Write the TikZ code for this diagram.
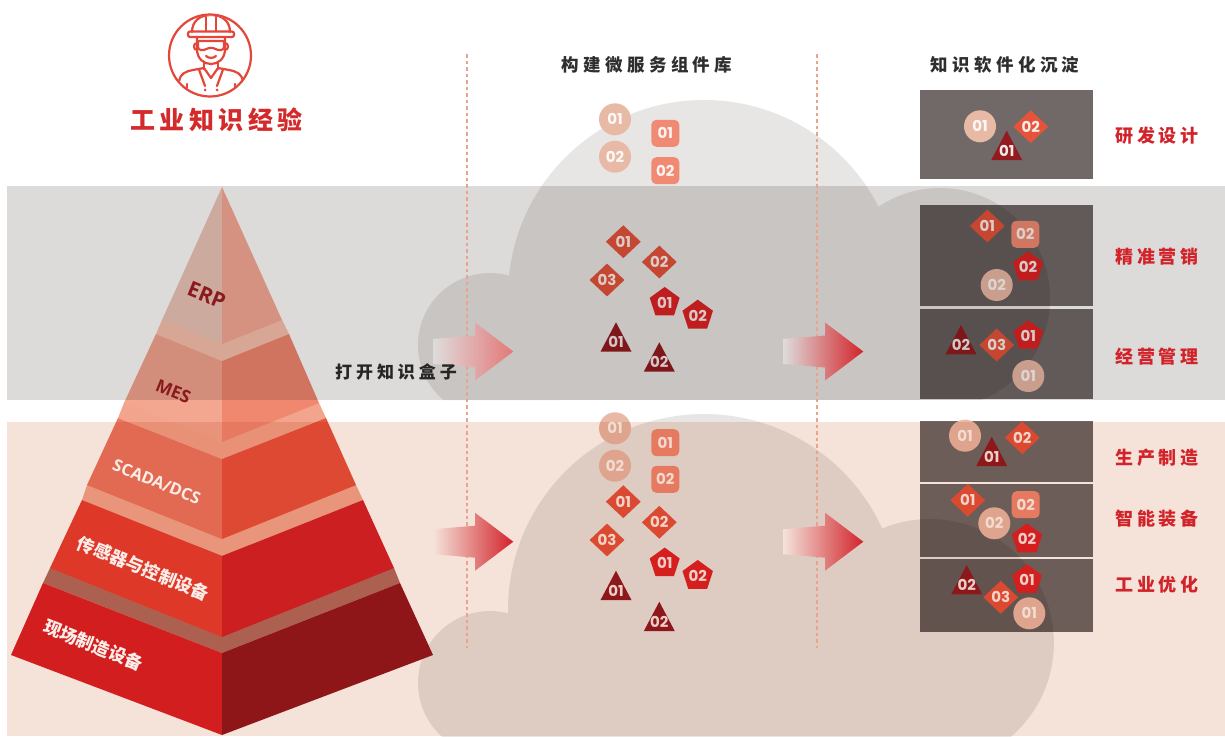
\documentclass[tikz,border=0pt]{standalone}
\usepackage{fontspec}
\setmainfont{Open Sans}
\newfontfamily\cjk{Noto Sans CJK SC}
\newfontfamily\numf{Poppins}
\usetikzlibrary{shapes.geometric}

% palette
\definecolor{bandgrey}{HTML}{DDDBDA}
\definecolor{bandpink}{HTML}{F5E3DA}
\definecolor{cloudc}{HTML}{E8E6E5}
\definecolor{iconred}{HTML}{E4463A}
\definecolor{titlered}{HTML}{D42A2B}
\definecolor{labred}{HTML}{D2232A}
\definecolor{headgrey}{HTML}{2E2E2E}
\definecolor{boxc}{HTML}{716967}
\definecolor{dotc}{HTML}{E9A48E}
\definecolor{shcirc}{HTML}{E8B9A5}
\definecolor{shrsq}{HTML}{F08A72}
\definecolor{shdia}{HTML}{E5533A}
\definecolor{shpent}{HTML}{DE2324}
\definecolor{shtri}{HTML}{931A1F}
% pyramid faces
\definecolor{erpL}{HTML}{ECC6B9}
\definecolor{erpR}{HTML}{F7AB96}
\definecolor{mesT}{HTML}{F9C2AE}
\definecolor{mesL}{HTML}{F3A690}
\definecolor{mesR}{HTML}{F08870}
\definecolor{scaT}{HTML}{F2A48C}
\definecolor{scaL}{HTML}{ED7860}
\definecolor{scaR}{HTML}{E7533C}
\definecolor{senT}{HTML}{F2A890}
\definecolor{senL}{HTML}{E8412F}
\definecolor{senR}{HTML}{D42327}
\definecolor{fldT}{HTML}{B46E5E}
\definecolor{fldL}{HTML}{DB2225}
\definecolor{fldR}{HTML}{94181D}
\definecolor{pyrdark}{HTML}{8B1A1F}
\definecolor{pyrlight}{HTML}{FCEDE8}

\tikzset{
  num/.style={font=\numf\bfseries\fontsize{15}{15}\selectfont, text=white, text opacity=0.9, inner sep=0pt},
  circshape/.style={num, circle, minimum size=32pt},
  rsqshape/.style={num, rectangle, rounded corners=5pt, minimum width=28pt, minimum height=27pt},
  diashape/.style={num, diamond, minimum width=35pt, minimum height=33pt},
  pentshape/.style={num, regular polygon, regular polygon sides=5, minimum size=31.5pt},
  boxst/.style={rectangle, fill=boxc, inner sep=0pt, anchor=north west},
  boxlabel/.style={font=\cjk\bfseries\fontsize{18}{18}\selectfont\addfontfeature{LetterSpace=19}, text=labred, inner sep=0pt},
  head/.style={font=\cjk\bfseries\fontsize{17.5}{17.5}\selectfont\addfontfeature{LetterSpace=25}, text=headgrey, inner sep=0pt},
  pyrtext/.style={font=\bfseries\fontsize{#1}{#1}\selectfont, rotate=-22, inner sep=0pt},
  pyrcjk/.style={font=\cjk\bfseries\fontsize{#1}{#1}\selectfont, rotate=-22, inner sep=0pt, text=pyrlight},
  dotline/.style={dotc, line width=1.6pt, dash pattern=on 3.5pt off 3pt},
  iconline/.style={iconred, line width=2.2pt, line cap=round, line join=round},
}

\newcommand\mkcirc[5]{\node[circshape, fill=#4] (#1) at (#2,#3) {#5};}
\newcommand\mkrsq[5]{\node[rsqshape, fill=#4] (#1) at (#2,#3) {#5};}
\newcommand\mkdia[5]{\node[diashape, fill=#4] (#1) at (#2,#3) {#5};}
\newcommand\mkpent[5]{\node[pentshape, fill=#4] (#1) at (#2,#3) {#5};}
\newcommand\mktri[5]{\fill[#4] (#2,#3) ++(0,-20) -- ++(15.5,29.4) -- ++(-31,0) -- cycle;
  \node[num] (#1) at (#2,#3) {#5};}
% block arrow: tail x, head x, tip x, centre y
\newcommand\mkarrow[6]{\shade[left color=#5, right color=#6]
  (#1,#4-12.5) -- (#2,#4-16) -- (#2,#4-29) -- (#3,#4) -- (#2,#4+29) -- (#2,#4+16) -- (#1,#4+12.5) -- cycle;}

\begin{document}
\begin{tikzpicture}[x=1pt,y=-1pt]
\useasboundingbox (0,0) rectangle (1225,736);
\clip (0,0) rectangle (1225,736);
\fill[white] (0,0) rectangle (1225,736);

% ---------- output panels ----------
\node[boxst, minimum width=173pt, minimum height=88.7pt] (b1) at (920,90) {};
\node[boxst, minimum width=173pt, minimum height=100.7pt] (b2) at (920,205) {};
\node[boxst, minimum width=173pt, minimum height=89.7pt] (b3) at (920,309) {};
\node[boxst, minimum width=173pt, minimum height=60.7pt] (b4) at (920,421) {};
\node[boxst, minimum width=173pt, minimum height=72.7pt] (b5) at (920,484) {};
\node[boxst, minimum width=173pt, minimum height=72.7pt] (b6) at (920,559) {};

% ---------- clouds ----------
\fill[cloudc, blend mode=multiply] (443.5,400)
  arc[start angle=130.2, end angle=285.4, radius=72]
  arc[start angle=185.97, end angle=332.93, radius=196]
  arc[start angle=236, end angle=428, radius=110] -- cycle;
\fill[cloudc, blend mode=multiply] (490,755)
  arc[start angle=90, end angle=284.5, radius=72]
  arc[start angle=179.04, end angle=335.43, radius=196]
  arc[start angle=247.4, end angle=450, radius=124] -- cycle;

% ---------- pyramid ----------
% field equipment
\fill[fldT] (43,583) -- (50,568) -- (222,540) -- (394,568) -- (400,583) -- (222,653) -- cycle;
\fill[fldL] (43,583) -- (222,653) -- (222,735) -- (11,655) -- cycle;
\fill[fldR] (222,653) -- (400,583) -- (433,655) -- (222,735) -- cycle;
% sensors and control
\fill[senT] (82,500) -- (87,485) -- (222,460) -- (356,485) -- (363,500) -- (222,556) -- cycle;
\fill[senL] (82,500) -- (222,556) -- (222,637) -- (50,568) -- cycle;
\fill[senR] (222,556) -- (363,500) -- (394,568) -- (222,637) -- cycle;
% SCADA/DCS
\fill[scaT] (118,418) -- (124,403) -- (222,380) -- (319,403) -- (326,418) -- (222,459) -- cycle;
\fill[scaL] (118,418) -- (222,459) -- (222,539) -- (87,485) -- cycle;
\fill[scaR] (222,459) -- (326,418) -- (356,485) -- (222,539) -- cycle;
% MES
\fill[mesT] (156,334) -- (162,320) -- (222,300) -- (282,320) -- (289,334) -- (222,361) -- cycle;
\fill[mesL] (156,334) -- (222,361) -- (222,442) -- (124,403) -- cycle;
\fill[mesR] (222,361) -- (289,334) -- (319,403) -- (222,442) -- cycle;
% ERP
\fill[erpL] (222,187) -- (162,320) -- (222,344) -- cycle;
\fill[erpR] (222,187) -- (222,344) -- (282,320) -- cycle;

% ---------- component library ----------
\mkcirc{mc1}{615}{119.3}{shcirc}{01}
\mkcirc{mc2}{615}{156.7}{shcirc}{02}
\mkrsq{mr1}{665.3}{133.3}{shrsq}{01}
\mkrsq{mr2}{665.3}{170.7}{shrsq}{02}
\mkdia{md1}{623.3}{241.7}{shdia}{01}
\mkdia{md2}{659.3}{262}{shdia}{02}
\mkdia{md3}{607}{280}{shdia}{03}
\mkpent{mp1}{664.7}{302.7}{shpent}{01}
\mkpent{mp2}{697.7}{315.7}{shpent}{02}
\mktri{mt1}{616}{342.3}{shtri}{01}
\mktri{mt2}{659.3}{362.3}{shtri}{02}

\mkcirc{nc1}{615}{428.3}{shcirc}{01}
\mkcirc{nc2}{615}{465.7}{shcirc}{02}
\mkrsq{nr1}{665.3}{442.7}{shrsq}{01}
\mkrsq{nr2}{665.3}{479.3}{shrsq}{02}
\mkdia{nd1}{623.3}{501.7}{shdia}{01}
\mkdia{nd2}{659.3}{522.3}{shdia}{02}
\mkdia{nd3}{607}{540}{shdia}{03}
\mkpent{np1}{664.7}{563.3}{shpent}{01}
\mkpent{np2}{697.7}{576}{shpent}{02}
\mktri{nt1}{616}{590.7}{shtri}{01}
\mktri{nt2}{659.3}{621.7}{shtri}{02}

% ---------- panel contents ----------
\mkcirc{p1c}{980}{126.3}{shcirc}{01}
\mkdia{p1d}{1030.7}{126.7}{shdia}{02}
\mktri{p1t}{1006.7}{150.7}{shtri}{01}

\mkdia{p2d}{987.3}{226}{shdia}{01}
\mkrsq{p2r}{1025.3}{234.3}{shrsq}{02}
\mkpent{p2p}{1028}{267.3}{shpent}{02}
\mkcirc{p2c}{996.7}{285}{shcirc}{02}

\mktri{p3t}{961}{345}{shtri}{02}
\mkdia{p3d}{996.7}{345}{shdia}{03}
\mkpent{p3p}{1028.3}{336}{shpent}{01}
\mkcirc{p3c}{1028.3}{376}{shcirc}{01}

\mkcirc{p4c}{965}{435.7}{shcirc}{01}
\mkdia{p4d}{1022.3}{437.7}{shdia}{02}
\mktri{p4t}{991.7}{456.7}{shtri}{01}

\mkdia{p5d}{967.7}{500.3}{shdia}{01}
\mkrsq{p5r}{1025.7}{504.7}{shrsq}{02}
\mkpent{p5p}{1027}{539.3}{shpent}{02}
\mkcirc{p5c}{994.3}{523.3}{shcirc}{02}

\mktri{p6t}{966.7}{585}{shtri}{02}
\mkdia{p6d}{1000.7}{597.3}{shdia}{03}
\mkpent{p6p}{1027}{580}{shpent}{01}
\mkcirc{p6c}{1029.3}{613.3}{shcirc}{01}

% ---------- bands ----------
\fill[bandgrey, blend mode=multiply] (7,186) rectangle (1225,400);
\fill[bandpink, blend mode=multiply] (7,422) rectangle (1225,736);

% ---------- pyramid labels ----------
\node[pyrtext=21, text=pyrdark] (lerp) at (206.7,295) {ERP};
\node[pyrtext=17.5, text=pyrdark] (lmes) at (173.3,391.7) {MES};
\node[pyrtext=16.5, text=pyrlight] (lsca) at (156.7,481.7) {SCADA/DCS};
\node[pyrcjk=17.5] (lsen) at (143.3,568.3) {传感器与控制设备};
\node[pyrcjk=17.5] (lfld) at (93.3,645) {现场制造设备};

% ---------- dividers ----------
\coordinate (d1t) at (467,54);
\coordinate (d1b) at (467,648);
\coordinate (d2t) at (817,54);
\coordinate (d2b) at (817,648);
\draw[dotline] (d1t) -- (d1b);
\draw[dotline] (d2t) -- (d2b);

% ---------- flow arrows ----------
\mkarrow{433}{475}{513.3}{351.5}{bandgrey!90!cloudc}{black!8!red!45!bandgrey}
\mkarrow{783}{825}{863.3}{351.5}{bandgrey!90!cloudc}{labred}
\mkarrow{433}{475}{513.3}{541.7}{bandpink}{labred}
\mkarrow{783}{825}{863.3}{541.7}{bandpink!90!cloudc}{labred}

% ---------- headings ----------
\node[head] (h1) at (647,65) {构建微服务组件库};
\node[head] (h2) at (1005,65) {知识软件化沉淀};
\node[font=\cjk\bfseries\fontsize{17}{17}\selectfont\addfontfeature{LetterSpace=23}, text=black!85, inner sep=0pt] (open) at (396,372) {打开知识盒子};
\node[font=\cjk\bfseries\fontsize{25}{25}\selectfont\addfontfeature{LetterSpace=18}, text=titlered, inner sep=0pt] (title) at (216.5,120) {工业知识经验};

\node[boxlabel] (l1) at (1157,136) {研发设计};
\node[boxlabel] (l2) at (1157,256.7) {精准营销};
\node[boxlabel] (l3) at (1157,356.7) {经营管理};
\node[boxlabel] (l4) at (1157,457.3) {生产制造};
\node[boxlabel] (l5) at (1157,518.3) {智能装备};
\node[boxlabel] (l6) at (1157,584.3) {工业优化};

% ---------- worker icon ----------
\begin{scope}[iconline]
  \draw (210,55.5) circle[radius=41];
  \begin{scope}
    \clip (210,55.5) circle[radius=40];
    % hard hat
    \draw (192,32) .. controls (192,21) and (200,15) .. (211,15) .. controls (222,15) and (230,21) .. (230,32);
    \draw (206,17) -- (206,31);
    \draw (216,17) -- (216,31);
    \draw[rounded corners=2pt] (188,31.5) rectangle (234,37);
    % face
    \draw (197,37) -- (197,49) .. controls (197,59) and (204,64) .. (211,64) .. controls (218,64) and (225,59) .. (225,49) -- (225,37);
    % goggles
    \draw (198,41) -- (224,41) -- (224,47) .. controls (224,50.5) and (219,51) .. (215.5,49) .. controls (213,47.5) and (209,47.5) .. (206.5,49) .. controls (203,51) and (198,50.5) .. (198,47) -- cycle;
    % ears
    \draw (197,43) .. controls (193,43) and (193,50) .. (197,50);
    \draw (225,43) .. controls (229,43) and (229,50) .. (225,50);
    % smile
    \draw (206,56) .. controls (208.5,58.5) and (213.5,58.5) .. (216,56);
    % neck and shoulders
    \draw (204,62) -- (204,69);
    \draw (218,62) -- (218,69);
    \draw (176,100) -- (179,81) .. controls (180,74) and (186,71) .. (193,70) -- (204,68) -- (211,78) -- (218,68) -- (229,70) .. controls (236,71) and (242,74) .. (243,81) -- (246,100);
    \draw (199,69.5) -- (205,86);
    \draw (223,69.5) -- (217,86);
    \draw (187,84) -- (187,100);
    \draw (235,84) -- (235,100);
    \fill (205,90) circle[radius=1.5];
    \fill (217,90) circle[radius=1.5];
  \end{scope}
\end{scope}
\end{tikzpicture}
\end{document}
